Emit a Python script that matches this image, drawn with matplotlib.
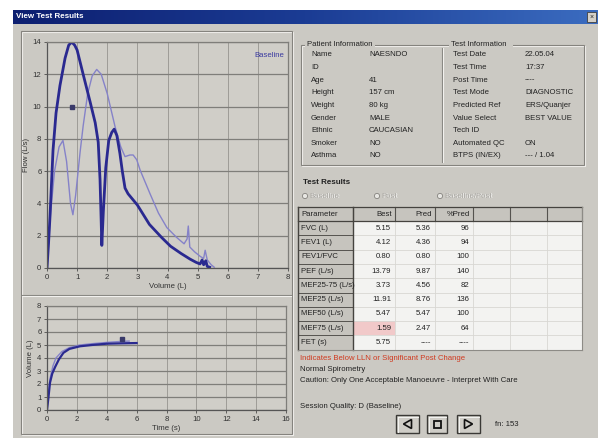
import matplotlib
matplotlib.use('Agg')
import matplotlib.pyplot as plt
from matplotlib.patches import Rectangle, Polygon, Circle
from matplotlib.colors import LinearSegmentedColormap
import numpy as np

# ---------------- data ----------------
fv_dark_vol = [0, 0.05, 0.1, 0.2, 0.3, 0.43, 0.6, 0.72, 0.82, 0.92, 1.0, 1.2, 1.43, 1.6, 1.7, 1.76, 1.79, 1.82,
               1.87, 1.95, 2.05, 2.15, 2.23, 2.32, 2.42, 2.5, 2.59, 2.69, 3.0, 3.4, 3.8, 4.1, 4.45, 4.75, 4.95,
               5.08, 5.15, 5.2, 5.27, 5.32, 5.4]
fv_dark_flow = [0, 1.5, 3.2, 7.3, 9.6, 11.3, 13.0, 13.8, 14.0, 13.8, 13.5, 12.0, 10.3, 9.0, 7.8, 5.5, 3.5, 1.4,
                3.5, 6.2, 7.9, 8.4, 8.6, 8.2, 7.1, 6.0, 4.95, 4.6, 3.9, 2.7, 1.9, 1.35, 0.9, 0.55, 0.35,
                0.25, 0.5, 0.2, 0.45, 0.1, 0.05]
fv_light_vol = [0, 0.1, 0.25, 0.4, 0.53, 0.65, 0.78, 0.86, 0.95, 1.1, 1.2, 1.35, 1.5, 1.65, 1.8, 2.0, 2.26, 2.45,
                2.59, 2.75, 2.86, 2.98, 3.09, 3.42, 3.7, 3.98, 4.3, 4.55, 4.65, 4.69, 4.74, 4.9, 5.1, 5.2, 5.25,
                5.32, 5.45, 5.55]
fv_light_flow = [0, 3.0, 6.0, 7.5, 7.9, 6.6, 4.0, 3.3, 4.5, 7.2, 8.8, 10.8, 11.9, 12.3, 12.0, 10.8, 8.75, 7.5,
                 6.9, 7.0, 7.0, 6.7, 6.07, 4.6, 3.4, 2.5, 1.9, 1.5, 1.8, 2.6, 1.3, 1.0, 0.7, 0.6, 1.1,
                 0.5, 0.2, 0.05]
fv_marker = (0.82, 10.0)

vt_dark_time = [0, 0.05, 0.1, 0.2, 0.35, 0.54, 0.8, 1.1, 1.5, 2.2, 3.0, 4.0, 5.0, 6.0]
vt_dark_vol = [0, 0.5, 1.0, 2.1, 2.8, 3.3, 3.9, 4.4, 4.7, 4.9, 5.0, 5.1, 5.13, 5.15]
vt_light_time = [0, 0.05, 0.1, 0.2, 0.4, 0.6, 1.0, 1.5, 2.2, 3.0, 4.0, 5.0, 5.5]
vt_light_vol = [0, 0.7, 1.3, 2.4, 3.4, 4.0, 4.5, 4.8, 5.0, 5.1, 5.2, 5.28, 5.3]
vt_marker = (5.0, 5.45)

fv_xticks = [0, 1, 2, 3, 4, 5, 6, 7, 8]
fv_yticks = [0, 2, 4, 6, 8, 10, 12, 14]
vt_xticks = [0, 2, 4, 6, 8, 10, 12, 14, 16]
vt_yticks = [0, 1, 2, 3, 4, 5, 6, 7, 8]

patient_labels = ['Name', 'ID', 'Age', 'Height', 'Weight', 'Gender', 'Ethnic', 'Smoker', 'Asthma']
patient_values = ['NAESNDO', '', '41', '157 cm', '80 kg', 'MALE', 'CAUCASIAN', 'NO', 'NO']
test_labels = ['Test Date', 'Test Time', 'Post Time', 'Test Mode', 'Predicted Ref', 'Value Select',
               'Tech ID', 'Automated QC', 'BTPS (IN/EX)']
test_values = ['22.05.04', '17:37', '----', 'DIAGNOSTIC', 'ERS/Quanjer', 'BEST VALUE', '', 'ON', '--- / 1.04']

table_header = ['Parameter', 'Best', 'Pred', '%Pred']
table_params = ['FVC (L)', 'FEV1 (L)', 'FEV1/FVC', 'PEF (L/s)', 'MEF25-75 (L/s)', 'MEF25 (L/s)',
                'MEF50 (L/s)', 'MEF75 (L/s)', 'FET (s)']
table_best = ['5.15', '4.12', '0.80', '13.79', '3.73', '11.91', '5.47', '1.59', '5.75']
table_pred = ['5.36', '4.36', '0.80', '9.87', '4.56', '8.76', '5.47', '2.47', '----']
table_pct = ['96', '94', '100', '140', '82', '136', '100', '64', '----']
table_flag_row = 7

# ---------------- figure ----------------
W, H = 598, 438
plt.rcParams['font.family'] = ['Liberation Sans', 'DejaVu Sans']
fig = plt.figure(figsize=(W / 100, H / 100), dpi=100)
fig.patch.set_facecolor('white')
ui = fig.add_axes([0, 0, 1, 1], zorder=0)
ui.set_xlim(0, W)
ui.set_ylim(H, 0)
ui.axis('off')

BG = '#cbc9c3'
DARK = '#85837e'
LIGHT = '#f2f1ee'
FS = 5.6


def rect(x0, y0, x1, y1, fc='none', ec='none', lw=0.8, z=1):
    ui.add_patch(Rectangle((x0, y0), x1 - x0, y1 - y0, facecolor=fc, edgecolor=ec, lw=lw, zorder=z))


def etched(x0, y0, x1, y1, z=2):
    rect(x0 + 1, y0 + 1, x1 + 1, y1 + 1, ec=LIGHT, lw=0.8, z=z)
    rect(x0, y0, x1, y1, ec=DARK, lw=0.8, z=z)


def txt(x, y, s, **kw):
    kw.setdefault('fontsize', FS)
    kw.setdefault('color', '#222222')
    kw.setdefault('va', 'center')
    ui.text(x, y, s, zorder=6, **kw)


# window body
rect(13, 10, 598, 438, fc=BG)
# title bar gradient
cmap = LinearSegmentedColormap.from_list('tb', ['#0d1f70', '#1b3c94', '#3b6cc0'])
ui.imshow(np.linspace(0, 1, 256).reshape(1, -1), extent=(13, 598, 24, 10), cmap=cmap,
          aspect='auto', zorder=2)
ui.set_xlim(0, W)
ui.set_ylim(H, 0)
txt(16, 17, 'View Test Results', color='white', fontweight='bold', fontsize=5.8)
rect(587, 12, 596, 22, fc='#d4d0c8', ec='#404040', lw=0.6, z=3)
txt(591.5, 17, '×', ha='center', fontsize=5, color='#222222')

# left panel
etched(21, 31, 292, 434)
ui.plot([22, 291], [295, 295], color=DARK, lw=0.8, zorder=3)
ui.plot([22, 291], [296, 296], color=LIGHT, lw=0.8, zorder=3)

# ---------------- charts ----------------
def px_axes(x0, y0, x1, y1):
    return fig.add_axes([x0 / W, 1 - y1 / H, (x1 - x0) / W, (y1 - y0) / H], zorder=2)


CHART_BG = '#d0cec8'
HGRID = '#7f7e7a'
VGRID = '#9e9c97'
C_DARK = '#2a2990'
C_LIGHT = '#8582c8'


def style(ax, xt, yt, xlab, ylab):
    ax.set_facecolor(CHART_BG)
    ax.set_xticks(xt)
    ax.set_yticks(yt)
    ax.set_xlim(xt[0], xt[-1])
    ax.set_ylim(yt[0], yt[-1])
    ax.grid(axis='y', color=HGRID, lw=0.9)
    ax.grid(axis='x', color=VGRID, lw=0.7)
    ax.set_axisbelow(True)
    for s in ['top', 'right']:
        ax.spines[s].set_color(HGRID)
        ax.spines[s].set_linewidth(0.9)
    for s in ['left', 'bottom']:
        ax.spines[s].set_color('#555555')
        ax.spines[s].set_linewidth(0.9)
    ax.tick_params(labelsize=FS, length=2, width=0.5, pad=2, colors='#333333')
    ax.set_xlabel(xlab, fontsize=FS, labelpad=1.5, color='#333333')
    ax.set_ylabel(ylab, fontsize=FS, labelpad=2, color='#333333')


ax1 = px_axes(47, 42, 288, 268)
style(ax1, fv_xticks, fv_yticks, 'Volume (L)', 'Flow (L/s)')
ax1.plot(fv_light_vol, fv_light_flow, color=C_LIGHT, lw=1.0)
ax1.plot(fv_dark_vol, fv_dark_flow, color=C_DARK, lw=2.0)
ax1.plot([fv_marker[0]], [fv_marker[1]], marker='s', ms=2.2, color='#3a3a6a', ls='none')
ax1.text(0.985, 0.94, 'Baseline', transform=ax1.transAxes, ha='right', va='center',
         fontsize=FS, color='#3a3aa0')

ax2 = px_axes(47, 306, 286, 410)
style(ax2, vt_xticks, vt_yticks, 'Time (s)', 'Volume (L)')
ax2.plot(vt_light_time, vt_light_vol, color=C_LIGHT, lw=1.0)
ax2.plot(vt_dark_time, vt_dark_vol, color=C_DARK, lw=1.6)
ax2.plot([vt_marker[0]], [vt_marker[1]], marker='s', ms=2.2, color='#3a3a6a', ls='none')

# ---------------- info group ----------------
etched(301, 45, 584, 165)
ui.plot([442, 442], [48, 162], color=DARK, lw=0.8, zorder=3)
ui.plot([443, 443], [48, 162], color=LIGHT, lw=0.8, zorder=3)
rect(305, 39, 375, 50, fc=BG, z=4)
rect(449, 39, 513, 50, fc=BG, z=4)
txt(307, 44, 'Patient Information')
txt(451, 44, 'Test Information')
row_y0, row_dy = 55, 12.6
for i, (lab, val) in enumerate(zip(patient_labels, patient_values)):
    y = row_y0 + i * row_dy
    txt(311, y, lab)
    txt(369, y, val)
for i, (lab, val) in enumerate(zip(test_labels, test_values)):
    y = row_y0 + i * row_dy
    txt(453, y, lab)
    txt(525, y, val)

# ---------------- test results ----------------
txt(303, 183, 'Test Results', fontweight='bold', fontsize=5.8)
radio_x = [305, 377, 440]
radio_lab = ['Baseline', 'Post', 'Baseline/Post']
for rx, rl in zip(radio_x, radio_lab):
    ui.add_patch(Circle((rx, 196), 2.6, facecolor='#e8e7e3', edgecolor=DARK, lw=0.6, zorder=5))
    txt(rx + 5, 196.8, rl, color='#f4f4f2')
    txt(rx + 4.5, 196.2, rl, color='#a9a7a2')

col_x = [298, 353, 395, 435, 473, 510, 547, 582]
top, hdr_b, rh = 207, 221, 14.3
n = len(table_params)
bot = hdr_b + n * rh
# data area
rect(353, hdr_b, 582, bot, fc='#f3f3f1', z=3)
# header and first column (grey)
rect(298, top, 582, hdr_b, fc='#c6c4be', z=3)
rect(298, hdr_b, 353, bot, fc='#c6c4be', z=3)
# flagged cell
rect(353, hdr_b + table_flag_row * rh, 395, hdr_b + (table_flag_row + 1) * rh, fc='#f1c9c9', z=3)
# grid lines
for i in range(n + 1):
    y = hdr_b + i * rh
    ui.plot([353, 582], [y, y], color='#d8d7d3', lw=0.6, zorder=4)
    ui.plot([298, 353], [y, y], color='#55534f', lw=0.7, zorder=4)
for x in col_x[2:-1]:
    ui.plot([x, x], [hdr_b, bot], color='#d8d7d3', lw=0.6, zorder=4)
for x in col_x:
    ui.plot([x, x], [top, hdr_b], color='#55534f', lw=0.8, zorder=4)
ui.plot([353, 353], [top, bot], color='#45433f', lw=1.0, zorder=4)
ui.plot([298, 298], [top, bot], color='#45433f', lw=1.0, zorder=4)
ui.plot([298, 582], [top, top], color='#45433f', lw=0.9, zorder=4)
ui.plot([298, 582], [hdr_b, hdr_b], color='#45433f', lw=0.9, zorder=4)
ui.plot([582, 582], [top, bot], color='#8d8b86', lw=0.8, zorder=4)
ui.plot([298, 582], [bot, bot], color='#8d8b86', lw=0.8, zorder=4)

txt(301, (top + hdr_b) / 2, table_header[0])
for j, h in enumerate(table_header[1:]):
    txt(col_x[j + 2] - 3, (top + hdr_b) / 2, h, ha='right')
for i in range(n):
    y = hdr_b + (i + 0.5) * rh
    txt(301, y, table_params[i])
    txt(col_x[2] - 4, y, table_best[i], ha='right')
    txt(col_x[3] - 4, y, table_pred[i], ha='right')
    txt(col_x[4] - 4, y, table_pct[i], ha='right')

txt(300, 358, 'Indicates Below LLN or Significant Post Change', color='#d03a20')
txt(300, 369.5, 'Normal Spirometry')
txt(300, 381, 'Caution: Only One Acceptable Manoeuvre - Interpret With Care')
txt(300, 407, 'Session Quality: D (Baseline)')

# navigation buttons
btns = [(396, 419, 'prev'), (427, 447, 'stop'), (457, 480, 'next')]
for x0, x1, kind in btns:
    rect(x0, 415, x1, 433, fc='#cfcdc7', ec='#3a3936', lw=1.0, z=4)
    ui.plot([x0 + 1.5, x1 - 1.5], [416.5, 416.5], color='#f4f4f2', lw=0.7, zorder=5)
    ui.plot([x0 + 1.5, x0 + 1.5], [416.5, 431.5], color='#f4f4f2', lw=0.7, zorder=5)
    cx, cy = (x0 + x1) / 2, 424
    if kind == 'prev':
        ui.add_patch(Polygon([[cx + 4, cy - 4.5], [cx + 4, cy + 4.5], [cx - 4, cy]], closed=True,
                             facecolor='#cfcdc7', edgecolor='#111111', lw=1.2, zorder=6))
    elif kind == 'next':
        ui.add_patch(Polygon([[cx - 4, cy - 4.5], [cx - 4, cy + 4.5], [cx + 4, cy]], closed=True,
                             facecolor='#cfcdc7', edgecolor='#111111', lw=1.2, zorder=6))
    else:
        rect(cx - 3.5, cy - 3.5, cx + 3.5, cy + 3.5, fc='#cfcdc7', ec='#111111', lw=1.3, z=6)
txt(495, 424.5, 'fn: 153')

fig.savefig('out.png', dpi=100, facecolor=fig.get_facecolor())
